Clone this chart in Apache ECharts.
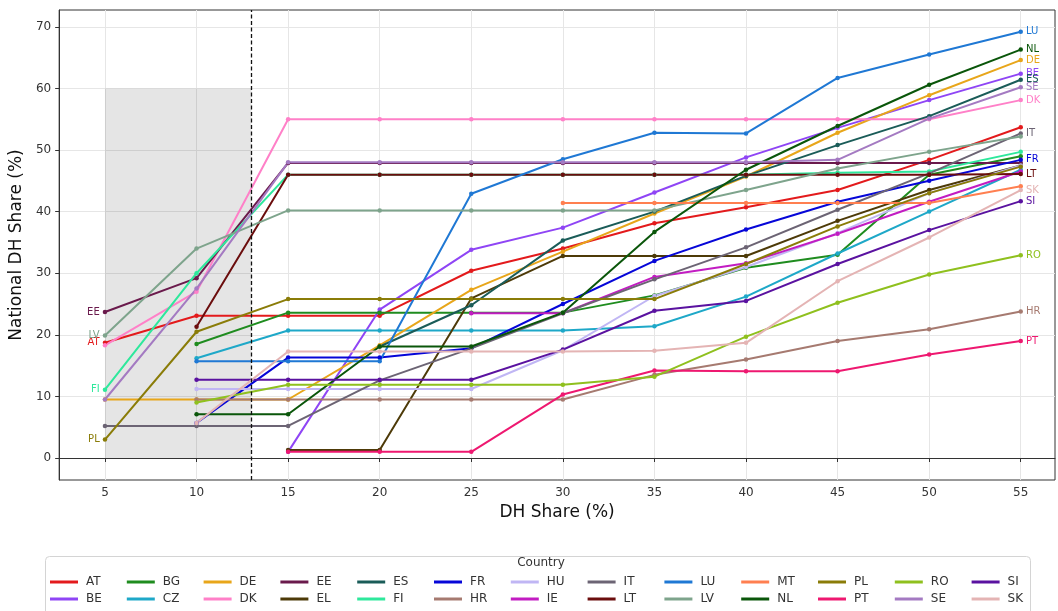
<!DOCTYPE html>
<html>
<head>
<meta charset="utf-8">
<script src="https://cdn.jsdelivr.net/npm/echarts@6/dist/echarts.min.js"></script>
<style>
  html, body { margin: 0; padding: 0; background: #fff; }
  #chart { width: 1058px; height: 611px; }
</style>
</head>
<body>
<div id="chart"></div>
<script>
// DH share steps on the x axis and tick values on the y axis
const xTicks = [5, 10, 15, 20, 25, 30, 35, 40, 45, 50, 55];
const yTicks = [0, 10, 20, 30, 40, 50, 60, 70];

const countries = ['AT','BE','BG','CZ','DE','DK','EE','EL','ES','FI','FR','HR','HU',
                   'IE','IT','LT','LU','LV','MT','NL','PL','PT','RO','SE','SI','SK'];

// National DH share (%) per country, one value per x step (null = no value)
const AT = [18.7, 23.1, 23.1, 23.1, 30.4, 34.0, 38.1, 40.7, 43.5, 48.4, 53.7];
const BE = [null, null, 1.0, 24.1, 33.8, 37.4, 43.1, 48.8, 53.6, 58.1, 62.4];
const BG = [null, 18.5, 23.6, 23.6, 23.6, 23.6, 26.4, 30.9, 33.0, 46.0, 49.0];
const CZ = [null, 16.2, 20.7, 20.7, 20.7, 20.7, 21.4, 26.2, 33.2, 40.0, 46.8];
const DE = [9.5, 9.5, 9.5, 18.3, 27.3, 33.5, 39.7, 45.7, 52.8, 58.9, 64.6];
const DK = [18.3, 27.0, 55.0, 55.0, 55.0, 55.0, 55.0, 55.0, 55.0, 55.0, 58.1];
const EE = [23.7, 29.2, 47.9, 47.9, 47.9, 47.9, 47.9, 47.9, 47.9, 47.9, 47.9];
const EL = [null, null, 1.3, 1.3, 25.9, 32.8, 32.8, 32.8, 38.5, 43.5, 47.5];
const ES = [null, null, null, 18.1, 24.8, 35.3, 40.0, 45.8, 50.8, 55.5, 61.4];
const FI = [11.1, 30.0, 46.0, 46.0, 46.0, 46.0, 46.0, 46.0, 46.3, 46.5, 49.7];
const FR = [null, 5.7, 16.3, 16.3, 17.8, 25.0, 32.0, 37.1, 41.6, 45.0, 48.4];
const HR = [null, 9.5, 9.5, 9.5, 9.5, 9.5, 13.5, 16.0, 19.0, 20.9, 23.8];
const HU = [null, 11.2, 11.2, 11.2, 11.2, 17.5, 26.3, 31.0, 36.5, 43.0, 47.5];
const IE = [null, null, null, null, 23.5, 23.5, 29.4, 31.6, 36.4, 41.6, 46.5];
const IT = [5.2, 5.2, 5.2, 12.6, 17.8, 23.5, 29.0, 34.2, 40.3, 46.2, 52.7];
const LT = [null, 21.3, 46.0, 46.0, 46.0, 46.0, 46.0, 46.0, 46.0, 46.0, 46.1];
const LU = [null, 15.7, 15.7, 15.7, 42.9, 48.5, 52.8, 52.7, 61.7, 65.5, 69.2];
const LV = [19.9, 34.0, 40.2, 40.2, 40.2, 40.2, 40.2, 43.5, 47.0, 49.7, 52.2];
const MT = [null, null, null, null, null, 41.4, 41.4, 41.4, 41.4, 41.4, 44.1];
const NL = [null, 7.1, 7.1, 18.1, 18.1, 23.6, 36.7, 46.8, 53.9, 60.6, 66.3];
const PL = [3.0, 20.5, 25.8, 25.8, 25.8, 25.8, 25.8, 31.5, 37.6, 43.0, 47.3];
const PT = [null, null, 1.0, 1.0, 1.0, 10.3, 14.2, 14.1, 14.1, 16.8, 19.0];
const RO = [null, 9.0, 11.9, 11.9, 11.9, 11.9, 13.2, 19.7, 25.2, 29.8, 32.9];
const SE = [9.5, 27.5, 48.0, 48.0, 48.0, 48.0, 48.0, 48.0, 48.4, 55.1, 60.2];
const SI = [null, 12.7, 12.7, 12.7, 12.7, 17.6, 23.9, 25.5, 31.5, 37.0, 41.7];
const SK = [null, 5.7, 17.3, 17.3, 17.3, 17.3, 17.4, 18.7, 28.7, 35.8, 43.5];

const values = { AT, BE, BG, CZ, DE, DK, EE, EL, ES, FI, FR, HR, HU,
                 IE, IT, LT, LU, LV, MT, NL, PL, PT, RO, SE, SI, SK };

// Threshold marker and the shaded low-share zone
const thresholdX = 13;
const shadeX = [5, 13];
const shadeY = [0, 60];

const colors = {
  AT: '#e31a1c', BE: '#8f45f5', BG: '#1f8c1f', CZ: '#1ea8c8', DE: '#e8a61a',
  DK: '#ff80c8', EE: '#6a1a4c', EL: '#4d3a08', ES: '#1a5c58', FI: '#2ee89c',
  FR: '#0606d8', HR: '#a67a70', HU: '#c0b6f4', IE: '#c21cc2', IT: '#6c6474',
  LT: '#6b0d0d', LU: '#1f78d4', LV: '#7ea48c', MT: '#ff7f50', NL: '#0a560a',
  PL: '#8a7c08', PT: '#ee1870', RO: '#8fc01e', SE: '#a47ac2', SI: '#5a12a0',
  SK: '#e4b4b4'
};

// Name tags: countries tagged at their first point (left) or last point (right)
const tagLeft = ['EE', 'LV', 'AT', 'FI', 'PL'];
const tagRight = ['LU', 'NL', 'DE', 'BE', 'ES', 'SE', 'DK', 'IT', 'FR', 'LT', 'SK', 'SI', 'RO', 'HR', 'PT'];

const FONT = 'DejaVu Sans';

function buildData(name) {
  const vals = values[name];
  let first = vals.findIndex(v => v !== null);
  let last = vals.length - 1;
  while (last >= 0 && vals[last] === null) last--;
  return vals.map((v, i) => {
    const item = { value: [xTicks[i], v] };
    const left = tagLeft.includes(name) && i === first;
    const right = tagRight.includes(name) && i === last;
    if (left || right) {
      item.label = {
        show: true,
        position: left ? 'left' : 'right',
        distance: 3,
        formatter: name,
        color: colors[name],
        fontSize: 10,
        fontFamily: FONT
      };
    }
    return item;
  });
}

const series = countries.map((name, idx) => {
  const s = {
    name: name,
    type: 'line',
    data: buildData(name),
    color: colors[name],
    symbol: 'circle',
    symbolSize: 4.5,
    showSymbol: true,
    lineStyle: { width: 2, color: colors[name] },
    itemStyle: { color: colors[name] },
    label: { show: false },
    emphasis: { disabled: true },
    animation: false,
    z: 3
  };
  if (idx === 0) {
    s.markArea = {
      silent: true,
      itemStyle: { color: 'rgba(0,0,0,0.1)' },
      data: [[{ coord: [shadeX[0], shadeY[0]] }, { coord: [shadeX[1], shadeY[1]] }]]
    };
    s.markLine = {
      silent: true,
      symbol: ['none', 'none'],
      label: { show: false },
      lineStyle: { color: '#111', type: [4, 2.5], width: 1.3 },
      data: [{ xAxis: thresholdX }],
      z: 10
    };
  }
  return s;
});

// Legend laid out column by column: two countries per column, 13 columns
const legendColumns = [];
for (let i = 0; i < countries.length; i += 2) {
  legendColumns.push(countries.slice(i, i + 2));
}
const legends = legendColumns.map((col, i) => ({
  orient: 'vertical',
  left: 50 + i * 76.8,
  top: 576,
  padding: 0,
  itemWidth: 28,
  itemHeight: 3,
  icon: 'rect',
  itemGap: 5,
  selectedMode: false,
  data: col,
  textStyle: { fontSize: 12, color: '#333', fontFamily: FONT, padding: [0, 0, 0, 3] }
}));

const option = {
  animation: false,
  backgroundColor: '#fff',
  textStyle: { fontFamily: FONT },
  grid: {
    left: 59, top: 10, right: 3, bottom: 131,
    show: true, borderColor: '#333', borderWidth: 1, backgroundColor: 'transparent'
  },
  xAxis: {
    type: 'value',
    min: 2.5,
    max: 56.87,
    name: 'DH Share (%)',
    nameLocation: 'middle',
    nameGap: 23,
    nameTextStyle: { fontSize: 17, color: '#111', fontFamily: FONT },
    axisLine: { show: true, lineStyle: { color: '#333' } },
    axisTick: { show: true, length: 4, customValues: xTicks, lineStyle: { color: '#333' } },
    axisLabel: { customValues: xTicks, margin: 7, fontSize: 12, color: '#333', fontFamily: FONT },
    splitLine: { show: true, lineStyle: { color: '#e6e6e6', width: 1 } }
  },
  yAxis: {
    type: 'value',
    min: -3.57,
    max: 72.73,
    name: 'National DH Share (%)',
    nameLocation: 'middle',
    nameGap: 27,
    nameTextStyle: { fontSize: 17, color: '#111', fontFamily: FONT },
    axisLine: { show: true, lineStyle: { color: '#333' } },
    axisTick: { show: true, length: 4, customValues: yTicks, lineStyle: { color: '#333' } },
    axisLabel: { customValues: yTicks, margin: 8, fontSize: 12, color: '#333', fontFamily: FONT },
    splitLine: { show: true, lineStyle: { color: '#e6e6e6', width: 1 } }
  },
  legend: legends,
  graphic: [
    {
      type: 'rect', z: -1, silent: true,
      shape: { x: 45.5, y: 556.5, width: 985, height: 70, r: 4 },
      style: { fill: '#fff', stroke: '#d4d4d4', lineWidth: 1 }
    },
    {
      type: 'text', silent: true,
      style: { text: 'Country', x: 541, y: 563, align: 'center', verticalAlign: 'middle',
               fontSize: 12, fill: '#333', fontFamily: FONT }
    }
  ],
  series: series
};

const chart = echarts.init(document.getElementById('chart'), null, { renderer: 'canvas' });
chart.setOption(option);
</script>
</body>
</html>
